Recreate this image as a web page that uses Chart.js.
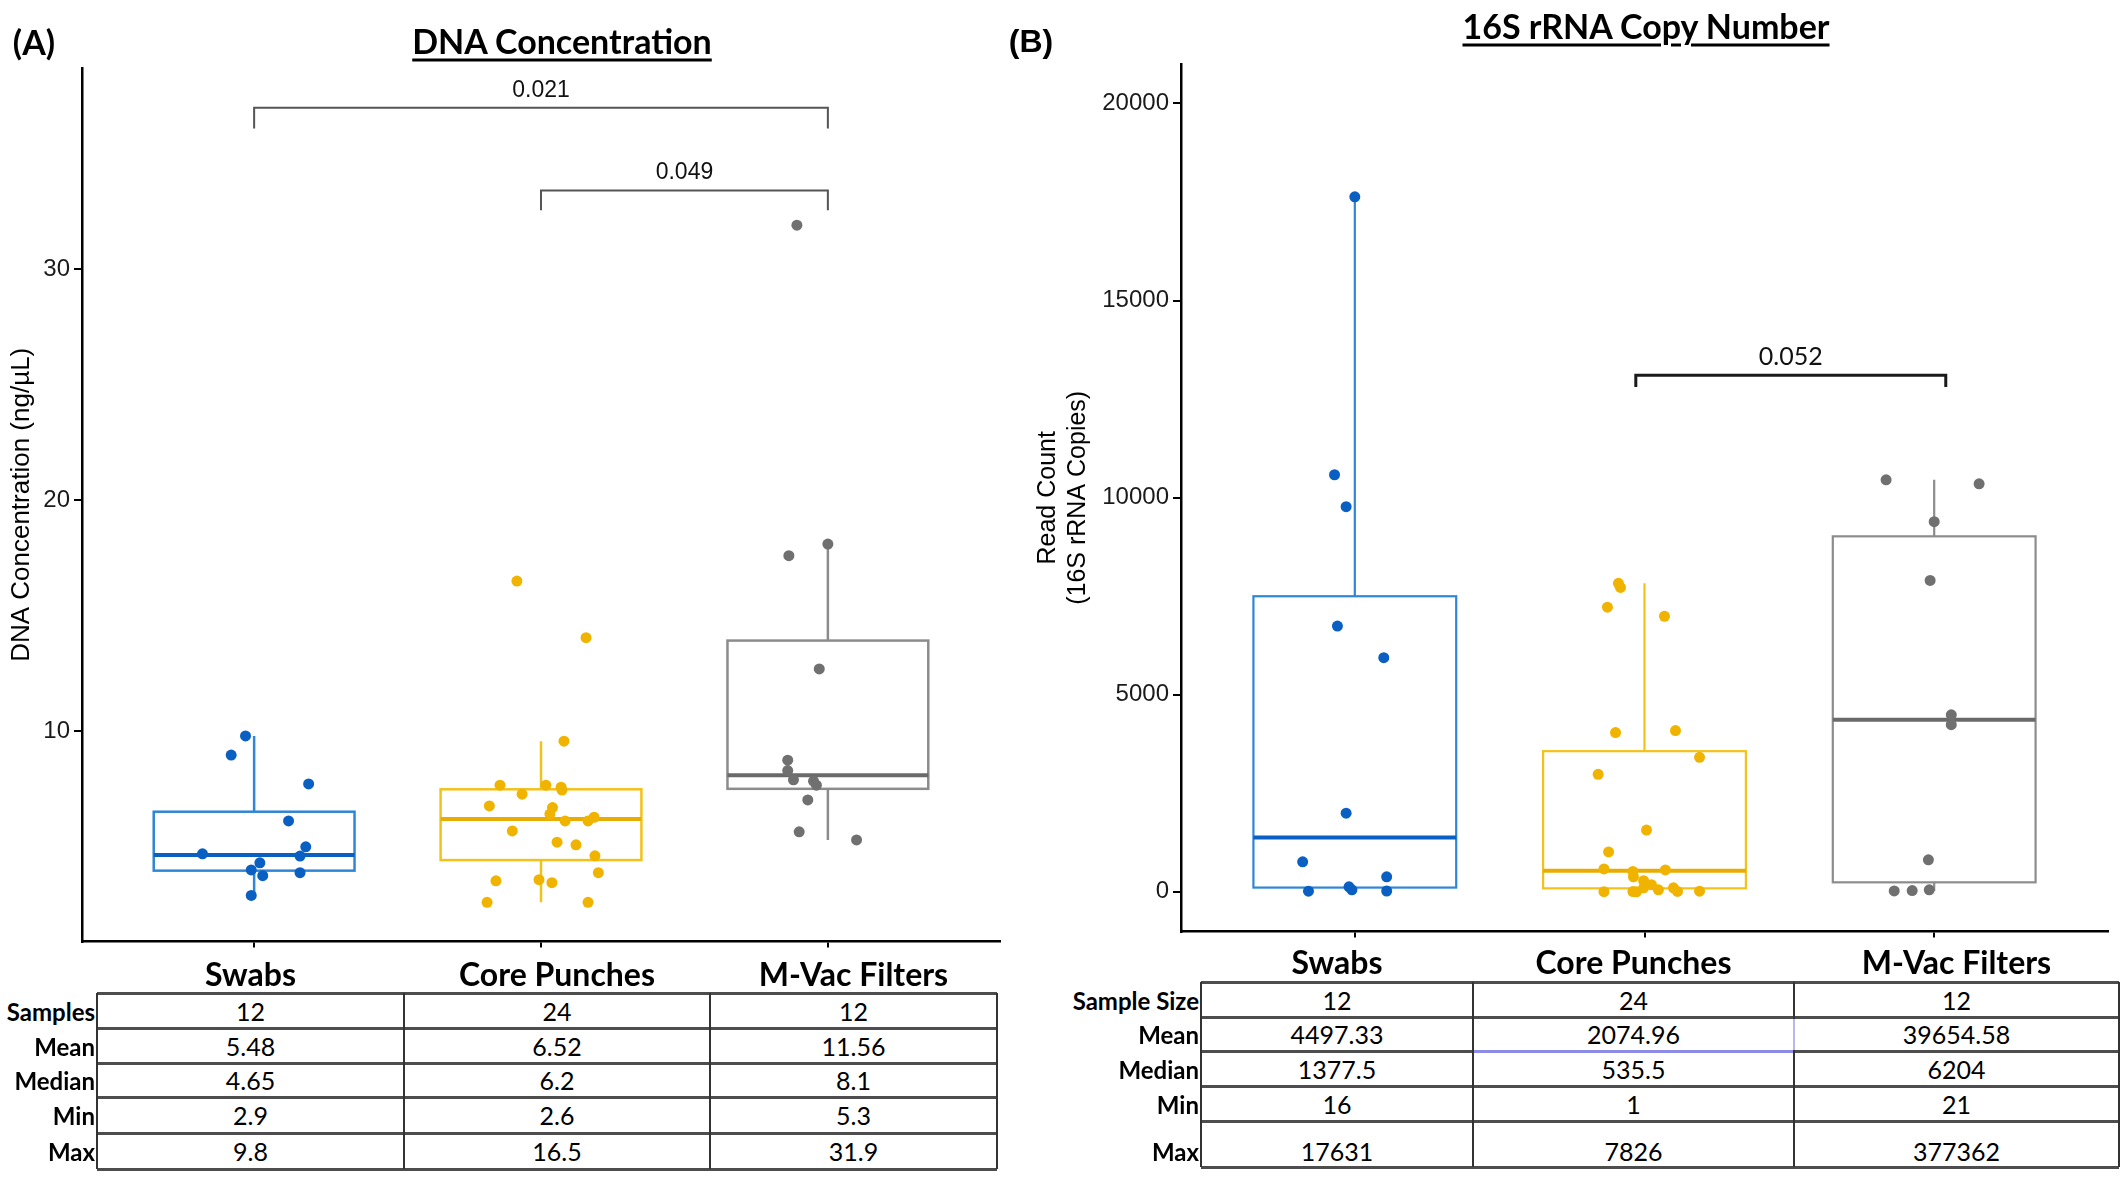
<!DOCTYPE html>
<html><head><meta charset="utf-8">
<script src="https://cdn.jsdelivr.net/npm/chart.js@4.4.1/dist/chart.umd.min.js"></script>
<style>
html,body{margin:0;padding:0;background:#fff;}
body{width:2128px;height:1178px;position:relative;overflow:hidden;font-family:Lato,sans-serif;color:#000;}
canvas{position:absolute;}
.t{position:absolute;white-space:nowrap;line-height:1;transform:translate(-50%,-50%);}
.tr{position:absolute;white-space:nowrap;line-height:1;transform:translate(-100%,-50%);}
.ln{position:absolute;}
</style></head><body>
<canvas id="cA" width="1010" height="960" style="left:0;top:0;width:1010px;height:960px"></canvas>
<canvas id="cB" width="1118" height="950" style="left:1010px;top:0;width:1118px;height:950px"></canvas>
<div id="txt"></div>
<script>
// ---------- DATA ----------
const categories = ['Swabs', 'Core Punches', 'M-Vac Filters'];

// Panel A: DNA concentration (ng/µL), jitter in category units
const dnaSwabs = [9.8, 8.97, 7.72, 6.12, 4.7, 5.0, 4.6, 4.31, 4.0, 3.75, 3.88, 2.9];
const dnaSwabsJitter = [-0.03, -0.08, 0.19, 0.12, -0.18, 0.18, 0.16, 0.02, -0.01, 0.03, 0.16, -0.01];
const dnaCore = [16.5, 14.05, 9.57, 7.67, 7.67, 7.58, 7.46, 7.28, 6.77, 6.42, 6.28, 6.12, 6.12, 5.69, 5.2, 5.09, 4.61, 3.88, 3.53, 3.58, 3.45, 2.6, 2.6, 6.7];
const dnaCoreJitter = [-0.084, 0.157, 0.08, -0.143, 0.017, 0.07, 0.073, -0.066, -0.18, 0.031, 0.185, 0.084, 0.164, -0.10, 0.056, 0.122, 0.188, 0.2, -0.157, -0.007, 0.038, -0.188, 0.164, 0.04];
const dnaMvac = [31.9, 17.6, 18.1, 12.7, 8.75, 8.3, 7.9, 7.84, 7.67, 7.03, 5.65, 5.3];
const dnaMvacJitter = [-0.108, -0.136, 0, -0.03, -0.14, -0.14, -0.12, -0.05, -0.04, -0.07, -0.10, 0.10];
const dnaTicks = [10, 20, 30];
const dnaBrackets = [
  {from: 1, to: 3, y: 36.98, drop: 0.9, label: '0.021'},
  {from: 2, to: 3, y: 33.4, drop: 0.86, label: '0.049'}
];
const dnaRowLabels = ['Samples', 'Mean', 'Median', 'Min', 'Max'];
const dnaTable = [
  ['12', '24', '12'],
  ['5.48', '6.52', '11.56'],
  ['4.65', '6.2', '8.1'],
  ['2.9', '2.6', '5.3'],
  ['9.8', '16.5', '31.9']
];

// Panel B: 16S rRNA copy number (visible points)
const readSwabs = [17631, 10580, 9770, 6740, 5940, 1995, 760, 16, 126, 50, 380, 20];
const readSwabsJitter = [0, -0.07, -0.03, -0.06, 0.10, -0.03, -0.18, -0.16, -0.02, -0.01, 0.11, 0.11];
const readCore = [7826, 7720, 7220, 6990, 4040, 4090, 3410, 2980, 1565, 1010, 580, 516, 555, 380, 280, 3, 5, 1, 50, 100, 10, 15, 180, 100];
const readCoreJitter = [-0.09, -0.083, -0.128, 0.069, -0.10, 0.107, 0.19, -0.16, 0.007, -0.124, -0.14, -0.04, 0.072, -0.038, -0.003, -0.14, -0.04, -0.028, 0.048, 0.10, 0.114, 0.19, 0.024, -0.003];
const readMvac = [10450, 10350, 9390, 7900, 4490, 4240, 810, 21, 30, 50];
const readMvacJitter = [-0.166, 0.155, 0, -0.014, 0.059, 0.059, -0.02, -0.138, -0.076, -0.017];
const readTicks = [0, 5000, 10000, 15000, 20000];
const readBrackets = [
  {from: 1.97, to: 3.04, y: 13106, drop: 300, label: '0.052'}
];
const readRowLabels = ['Sample Size', 'Mean', 'Median', 'Min', 'Max'];
const readTable = [
  ['12', '24', '12'],
  ['4497.33', '2074.96', '39654.58'],
  ['1377.5', '535.5', '6204'],
  ['16', '1', '21'],
  ['17631', '7826', '377362']
];

// ---------- STYLE ----------
const pointColors = ['#0a5fc2', '#f0b400', '#707070'];
const boxColors = ['#2f86d6', '#f3c21a', '#8c8c8c'];
const medColors = ['#0a5fc2', '#e8ad00', '#6a6a6a'];

function quant(s, p) { const pos = (s.length - 1) * p, lo = Math.floor(pos), hi = Math.ceil(pos); return s[lo] + (s[hi] - s[lo]) * (pos - lo); }
function boxStats(vals) {
  const s = [...vals].sort((a, b) => a - b);
  const q1 = quant(s, .25), med = quant(s, .5), q3 = quant(s, .75), iqr = q3 - q1;
  const lo = s.find(v => v >= q1 - 1.5 * iqr);
  const hi = [...s].reverse().find(v => v <= q3 + 1.5 * iqr);
  return {q1, med, q3, lo, hi};
}

function makeBoxPlugin(groups, cfg) {
  return {
    id: 'boxes' + cfg.id,
    beforeDatasetsDraw(chart) {
      const {ctx, scales: {x, y}} = chart;
      groups.forEach((vals, i) => {
        const st = boxStats(vals);
        const cx = x.getPixelForValue(i + 1);
        const hw = x.getPixelForValue(i + 1 + cfg.width / 2) - cx;
        const yt = y.getPixelForValue(st.q3), yb = y.getPixelForValue(st.q1), ym = y.getPixelForValue(st.med);
        ctx.save();
        ctx.strokeStyle = boxColors[i]; ctx.lineWidth = cfg.lw;
        ctx.beginPath();
        ctx.moveTo(cx, yt); ctx.lineTo(cx, y.getPixelForValue(st.hi));
        ctx.moveTo(cx, yb); ctx.lineTo(cx, y.getPixelForValue(st.lo));
        ctx.stroke();
        ctx.fillStyle = '#fff';
        ctx.fillRect(cx - hw, yt, 2 * hw, yb - yt);
        ctx.strokeRect(cx - hw, yt, 2 * hw, yb - yt);
        ctx.strokeStyle = medColors[i]; ctx.lineWidth = cfg.mlw;
        ctx.beginPath(); ctx.moveTo(cx - hw, ym); ctx.lineTo(cx + hw, ym); ctx.stroke();
        ctx.restore();
      });
    },
    afterDatasetsDraw(chart) {
      const {ctx, scales: {x, y}} = chart;
      cfg.brackets.forEach(b => {
        const x1 = x.getPixelForValue(b.from), x2 = x.getPixelForValue(b.to);
        const yy = y.getPixelForValue(b.y), yd = y.getPixelForValue(b.y - b.drop);
        ctx.save();
        ctx.strokeStyle = cfg.bColor; ctx.lineWidth = cfg.bLw;
        ctx.beginPath(); ctx.moveTo(x1, yd); ctx.lineTo(x1, yy); ctx.lineTo(x2, yy); ctx.lineTo(x2, yd); ctx.stroke();
        ctx.fillStyle = '#111'; ctx.font = cfg.bFont; ctx.textAlign = 'center'; ctx.textBaseline = 'bottom';
        ctx.fillText(b.label, (x1 + x2) / 2, yy - cfg.bGap);
        ctx.restore();
      });
    }
  };
}

function scatterSets(groups, jitters) {
  return groups.map((vals, i) => ({
    type: 'scatter',
    data: vals.map((v, k) => ({x: i + 1 + jitters[i][k], y: v})),
    backgroundColor: pointColors[i], borderWidth: 0, pointRadius: 5.5, pointHoverRadius: 5.5
  }));
}

function makeChart(id, groups, jitters, yMin, yMax, ticks, yTitle, cfg) {
  return new Chart(document.getElementById(id), {
    type: 'scatter',
    data: {datasets: scatterSets(groups, jitters)},
    plugins: [makeBoxPlugin(groups, cfg)],
    options: {
      responsive: false, animation: false, devicePixelRatio: 1,
      layout: {padding: cfg.pad},
      plugins: {legend: {display: false}, tooltip: {enabled: false}},
      scales: {
        x: {type: 'linear', min: 0.4, max: 3.6,
          afterBuildTicks: s => { s.ticks = [1, 2, 3].map(v => ({value: v})); },
          ticks: {callback: () => '', padding: 0},
          grid: {drawOnChartArea: false, tickLength: 6, color: '#000', lineWidth: 2},
          border: {display: true, color: '#000', width: cfg.axLw},
          afterFit: s => { s.height = 15; }
        },
        y: {type: 'linear', min: yMin, max: yMax,
          afterBuildTicks: s => { s.ticks = ticks.map(v => ({value: v})); },
          ticks: {color: '#1a1a1a', font: {family: 'Liberation Sans', size: cfg.tickSize}, padding: 4, callback: v => String(v)},
          grid: {drawOnChartArea: false, tickLength: 8, color: '#000', lineWidth: 2},
          border: {display: true, color: '#000', width: cfg.axLw},
          title: {display: true, text: yTitle, color: '#000', font: {family: 'Liberation Sans', size: cfg.titleSize, lineHeight: 1.2}, padding: {top: cfg.titlePad, bottom: 0}},
          afterFit: s => { s.width = cfg.yWidth; }
        }
      }
    }
  });
}

makeChart('cA', [dnaSwabs, dnaCore, dnaMvac], [dnaSwabsJitter, dnaCoreJitter, dnaMvacJitter],
  0.9, 38.7, dnaTicks, 'DNA Concentration (ng/µL)',
  {id: 'A', width: 0.7, lw: 2.5, mlw: 4, brackets: dnaBrackets, bColor: '#555', bLw: 2, bFont: '23px "Liberation Sans"', bGap: 6,
   pad: {left: 0, right: 10, top: 68, bottom: 0}, axLw: 2.5, tickSize: 24, titleSize: 26, titlePad: 6, yWidth: 82});

makeChart('cB', [readSwabs, readCore, readMvac], [readSwabsJitter, readCoreJitter, readMvacJitter],
  -1010, 21000, readTicks, ['Read Count', '(16S rRNA Copies)'],
  {id: 'B', width: 0.7, lw: 2.2, mlw: 4, brackets: readBrackets, bColor: '#1a1a1a', bLw: 3, bFont: '25px Lato', bGap: 6,
   pad: {left: 0, right: 20, top: 64, bottom: 0}, axLw: 2.5, tickSize: 24, titleSize: 25, titlePad: 23, yWidth: 171});

// ---------- TEXT & TABLES ----------
const txt = document.getElementById('txt');
function addText(s, x, y, css, right) {
  const d = document.createElement('div');
  d.className = right ? 'tr' : 't';
  d.style.left = x + 'px'; d.style.top = y + 'px';
  d.style.cssText += css;
  d.textContent = s;
  txt.appendChild(d);
}
function addLine(x, y, w, h, c) {
  const d = document.createElement('div');
  d.className = 'ln';
  d.style.cssText = `left:${x}px;top:${y}px;width:${w}px;height:${h}px;background:${c};`;
  txt.appendChild(d);
}

addText('(A)', 34, 41, 'font:700 34px Lato;');
addText('(B)', 1031, 41, 'font:700 32px "Liberation Sans";');
addText('DNA Concentration', 562, 40, 'font:700 34px Lato;text-decoration:underline;text-decoration-thickness:3px;text-underline-offset:5px;');
addText('16S rRNA Copy Number', 1646, 25, 'font:700 34px Lato;text-decoration:underline;text-decoration-thickness:3px;text-underline-offset:5px;');

function drawTable(xs, ys, rowLabels, rows, catY, purple) {
  categories.forEach((c, j) => addText(c, (xs[j] + xs[j + 1]) / 2, catY, 'font:700 32px Lato;'));
  ys.forEach(y => addLine(xs[0], y - 1.5, xs[3] - xs[0], 3, '#4d4d4d'));
  xs.forEach(x => addLine(x - 1, ys[0], 2, ys[ys.length - 1] - ys[0], '#333'));
  if (purple) {
    addLine(xs[1] + 1, ys[2] - 1.5, xs[2] - xs[1] - 2, 3, '#8c8ce6');
    addLine(xs[2] - 1, ys[1] + 2, 2, ys[2] - ys[1] - 3, '#b8b8f0');
  }
  rows.forEach((r, i) => {
    let cy = (ys[i] + ys[i + 1]) / 2;
    if (purple && i === rows.length - 1) cy += 7;
    addText(rowLabels[i], xs[0] - 2, cy, 'font:700 24px Lato;', true);
    r.forEach((v, j) => addText(v, (xs[j] + xs[j + 1]) / 2, cy, 'font:400 25px Lato;'));
  });
}
drawTable([97, 404, 710, 997], [993, 1028, 1063, 1097, 1133, 1169], dnaRowLabels, dnaTable, 973, false);
drawTable([1201, 1473, 1794, 2119], [982, 1017, 1051, 1086, 1121, 1167], readRowLabels, readTable, 961, true);
</script>
</body></html>
